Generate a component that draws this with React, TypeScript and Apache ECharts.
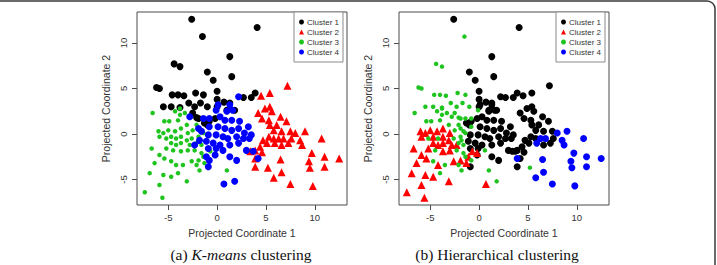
import React, { useEffect, useRef } from "react";
import * as echarts from "echarts";

const clusterNames = ["Cluster 1", "Cluster 2", "Cluster 3", "Cluster 4"];
const clusterColors = ["#000000", "#ff0000", "#1fc41f", "#0000ff"];
const clusterSymbols = ["circle", "triangle", "circle", "circle"];
const clusterSizes = [7, 8, 4.5, 7];

const axisTicks = [-5, 0, 5, 10];
const xTitle = "Projected Coordinate 1";
const yTitle = "Projected Coordinate 2";

// Each row: [projected coordinate 1, projected coordinate 2, hierarchical cluster]
// grouped by the K-means cluster the point was assigned to.
const kmeansCluster1 = [
  [-2.6, 12.6, 1], [4.1, 11.7, 1], [-1.5, 10.7, 3], [1.3, 8.5, 1], [-4.4, 7.7, 3],
  [-3.8, 7.4, 3], [-1.0, 6.8, 1], [1.5, 6.3, 1], [-0.4, 5.9, 1], [-6.2, 5.1, 3],
  [-5.9, 5.0, 3], [0.0, 4.7, 1], [-4.6, 4.3, 3], [-4.0, 4.3, 3], [-3.4, 4.2, 3],
  [-2.2, 4.5, 3], [-1.4, 4.3, 3], [3.9, 4.5, 1], [2.7, 4.0, 1], [3.5, 4.0, 1],
  [0.7, 3.5, 1], [0.0, 3.8, 1], [-5.5, 3.0, 3], [-4.7, 3.0, 3], [-3.8, 2.9, 3],
  [-2.9, 3.4, 3], [-2.3, 3.0, 3], [-1.7, 3.4, 3], [-1.0, 3.0, 3], [0.0, 3.0, 1],
  [1.8, 2.6, 1], [1.3, 3.4, 1], [-2.5, 2.3, 3], [-1.9, 1.7, 3], [-1.3, 1.2, 1],
  [-0.8, 1.4, 1], [-0.2, 1.7, 1], [1.0, 2.6, 1], [-2.1, 1.8, 3], [-1.0, 1.0, 1],
];

const kmeansCluster2 = [
  [7.2, 5.3, 1], [5.4, 4.5, 1], [4.5, 4.2, 1], [4.9, 2.8, 1], [5.4, 3.0, 1],
  [5.6, 2.5, 1], [4.2, 2.3, 1], [4.6, 1.7, 1], [5.3, 1.5, 1], [5.4, 1.0, 1],
  [6.5, 1.9, 1], [7.1, 1.4, 1], [6.1, 1.0, 1], [5.8, 0.4, 1], [6.6, 0.3, 1],
  [7.5, 0.3, 1], [8.0, 0.1, 4], [9.0, 0.3, 4], [7.6, -0.5, 1], [6.8, -0.5, 4],
  [6.3, -0.5, 4], [5.8, -0.5, 1], [5.3, -0.3, 1], [4.7, -0.7, 1], [4.4, -1.4, 1],
  [5.1, -1.0, 1], [5.9, -1.0, 4], [6.6, -1.2, 1], [7.3, -1.0, 1], [8.5, -0.7, 4],
  [8.7, -1.2, 4], [10.7, -0.5, 4], [3.4, -1.9, 1], [3.9, -1.8, 1], [4.6, -2.0, 1],
  [6.5, -2.8, 4], [5.2, -3.7, 3], [3.9, -3.6, 1], [6.6, -4.2, 4], [5.8, -4.8, 4],
  [7.5, -5.5, 4], [9.8, -5.7, 4], [9.4, -3.0, 4], [9.5, -3.7, 4], [9.7, -2.1, 4],
  [11.0, -2.5, 4], [11.0, -3.6, 4], [12.5, -2.7, 4], [3.9, -2.7, 4],
];

const kmeansCluster3 = [
  [-6.6, 2.3, 3], [-3.8, 2.1, 3], [-3.3, 2.3, 3], [-5.4, 1.4, 3], [-4.9, 1.4, 3],
  [-4.0, 1.5, 3], [-3.1, 1.0, 3], [-6.0, 0.3, 2], [-5.5, 0.1, 2], [-5.0, 0.4, 2],
  [-4.3, 0.3, 2], [-3.7, 0.6, 2], [-3.0, 0.1, 2], [-2.5, 0.4, 3], [-2.1, 1.0, 3],
  [-5.9, -0.3, 2], [-5.2, -0.5, 3], [-4.7, -0.3, 2], [-4.2, -0.5, 3], [-3.7, -0.3, 2],
  [-3.1, -0.7, 2], [-2.6, -0.5, 3], [-1.9, -0.3, 3], [-1.4, 0.1, 3], [-4.7, -1.0, 2],
  [-4.2, -1.2, 2], [-3.7, -1.0, 2], [-2.8, -1.2, 2], [-2.1, -1.0, 3], [-1.6, -1.2, 3],
  [-6.7, -1.6, 2], [-5.2, -1.6, 2], [-4.5, -1.8, 3], [-3.7, -1.9, 2], [-3.0, -1.8, 2],
  [-2.3, -1.8, 3], [-1.6, -2.1, 3], [-5.9, -2.3, 2], [-5.4, -2.7, 2], [-4.7, -3.0, 3],
  [-4.2, -3.4, 2], [-3.5, -3.4, 3], [-2.6, -3.0, 2], [-1.9, -2.9, 2], [-1.4, -2.5, 3],
  [-0.7, -1.9, 2], [-0.2, -2.1, 2], [-6.4, -3.2, 2], [-6.9, -4.3, 2], [-5.5, -4.5, 2],
  [-4.7, -4.7, 2], [-3.1, -5.2, 2], [-1.8, -4.0, 3], [1.0, -4.0, 3], [-5.9, -5.6, 2],
  [-4.0, -4.3, 3], [-2.1, -3.4, 3], [-1.3, -3.2, 2], [-7.4, -6.4, 2], [-5.6, -7.0, 2],
  [-4.3, 2.5, 3], [-3.8, 2.8, 3],
];

const kmeansCluster4 = [
  [2.2, 4.1, 1], [0.1, 3.2, 1], [1.3, 3.2, 1], [-0.1, 2.6, 3], [1.0, 2.5, 1],
  [1.6, 2.6, 1], [-2.8, 1.9, 3], [-1.4, 1.7, 3], [-0.8, 1.7, 3], [0.3, 1.9, 1],
  [0.8, 1.5, 1], [1.5, 1.5, 1], [2.3, 1.4, 1], [3.2, 0.8, 1], [-0.8, 0.8, 3],
  [0.1, 0.8, 1], [0.8, 0.6, 1], [1.5, 0.4, 1], [2.2, 0.6, 1], [2.8, 0.1, 1],
  [3.5, -0.1, 1], [-1.6, 0.3, 3], [-0.9, -0.1, 1], [-0.1, -0.1, 1], [0.6, -0.3, 1],
  [1.1, -0.5, 1], [2.0, -0.3, 1], [2.7, -0.5, 1], [3.3, -0.5, 1], [-1.8, -0.7, 3],
  [-1.1, -0.8, 1], [-0.4, -1.0, 1], [0.3, -1.2, 1], [1.3, -1.2, 1], [2.2, -1.0, 1],
  [-0.9, -1.6, 1], [-0.1, -1.6, 1], [0.6, -1.8, 3], [3.0, -1.8, 1], [3.7, -1.9, 1],
  [4.2, -2.7, 1], [-0.2, -2.3, 1], [-0.8, -2.9, 3], [1.3, -2.5, 1], [2.0, -2.9, 1],
  [-0.9, -3.6, 1], [1.8, -5.2, 3], [0.7, -5.5, 2], [-1.9, 0.6, 3], [-2.3, -1.2, 2],
  [-1.1, -2.5, 2],
];

const kmeansGroups = [kmeansCluster1, kmeansCluster2, kmeansCluster3, kmeansCluster4];

const sans = "'Liberation Sans', Arial, Helvetica, sans-serif";
const serif = "'Liberation Serif', 'Times New Roman', serif";

const panelLefts = [137, 399];
const panelTop = 12;
const panelWidth = 210;
const panelHeight = 193;

function buildOption() {
  const allRows = kmeansGroups.flat();

  const grids = panelLefts.map((left) => ({
    left,
    top: panelTop,
    width: panelWidth,
    height: panelHeight,
    show: true,
    borderColor: "#4a4a4a",
    borderWidth: 1,
    backgroundColor: "transparent",
  }));

  const xAxes = panelLefts.map((_, i) => ({
    gridIndex: i,
    type: "value",
    position: "bottom",
    min: -8.2,
    max: 13.3,
    axisLine: { show: false, onZero: false },
    splitLine: { show: false },
    axisTick: { show: true, customValues: axisTicks, length: 5, lineStyle: { color: "#4a4a4a" } },
    axisLabel: { customValues: axisTicks, margin: 7, fontSize: 9.5, color: "#333", fontFamily: sans },
    name: xTitle,
    nameLocation: "middle",
    nameGap: 22,
    nameTextStyle: { fontSize: 10.5, color: "#333", fontFamily: sans },
  }));

  const yAxes = panelLefts.map((_, i) => ({
    gridIndex: i,
    type: "value",
    position: "left",
    min: -7.8,
    max: 13.4,
    axisLine: { show: false, onZero: false },
    splitLine: { show: false },
    axisTick: { show: true, customValues: axisTicks, length: 5, lineStyle: { color: "#4a4a4a" } },
    axisLabel: { customValues: axisTicks, margin: 9, rotate: 90, fontSize: 9.5, color: "#333", fontFamily: sans },
    name: yTitle,
    nameLocation: "middle",
    nameGap: 26,
    nameTextStyle: { fontSize: 10.5, color: "#333", fontFamily: sans },
  }));

  const series: any[] = [];
  // K-means panel
  kmeansGroups.forEach((rows, k) => {
    series.push({
      type: "scatter",
      name: clusterNames[k],
      xAxisIndex: 0,
      yAxisIndex: 0,
      symbol: clusterSymbols[k],
      symbolSize: clusterSizes[k],
      itemStyle: { color: clusterColors[k], opacity: 1 },
      silent: true,
      data: rows.map((r) => [r[0], r[1]]),
    });
  });
  // Hierarchical panel
  clusterNames.forEach((name, k) => {
    series.push({
      type: "scatter",
      name,
      xAxisIndex: 1,
      yAxisIndex: 1,
      symbol: clusterSymbols[k],
      symbolSize: clusterSizes[k],
      itemStyle: { color: clusterColors[k], opacity: 1 },
      silent: true,
      data: allRows.filter((r) => r[2] === k + 1).map((r) => [r[0], r[1]]),
    });
  });

  const legends = panelLefts.map((left) => ({
    orient: "vertical",
    left: left + panelWidth - 53,
    top: panelTop,
    data: clusterNames,
    selectedMode: false,
    itemWidth: 5,
    itemHeight: 5,
    itemGap: 0,
    padding: [5, 4, 5, 5],
    borderColor: "#8a8a8a",
    borderWidth: 1,
    backgroundColor: "#fff",
    textStyle: { fontSize: 8, lineHeight: 10, color: "#333", fontFamily: sans, padding: [0, 0, 0, -2] },
  }));

  const captionStyle = { fontFamily: serif, fontSize: 15.5, fill: "#111" };
  const graphic = [
    {
      type: "rect",
      silent: true,
      shape: { x: -10, y: 1, width: 725, height: 300, r: 8 },
      style: { fill: "none", stroke: "#3a3a3a", lineWidth: 1.5 },
    },
    {
      type: "text",
      silent: true,
      x: 241,
      y: 254,
      style: {
        text: "{n|(a) }{i|K-means}{n| clustering}",
        align: "center",
        verticalAlign: "middle",
        rich: { n: { ...captionStyle }, i: { ...captionStyle, fontStyle: "italic" } },
      },
    },
    {
      type: "text",
      silent: true,
      x: 497,
      y: 254,
      style: {
        text: "{n|(b) Hierarchical clustering}",
        align: "center",
        verticalAlign: "middle",
        rich: { n: { ...captionStyle } },
      },
    },
  ];

  return {
    animation: false,
    backgroundColor: "#fff",
    grid: grids,
    xAxis: xAxes,
    yAxis: yAxes,
    legend: legends,
    series,
    graphic,
  };
}

export default function App() {
  const ref = useRef<HTMLDivElement>(null);
  useEffect(() => {
    if (!ref.current) return;
    const chart = echarts.init(ref.current, null, { renderer: "svg" });
    chart.setOption(buildOption() as any);
    return () => chart.dispose();
  }, []);
  return (
    <div
      ref={ref}
      style={{ position: "fixed", left: 0, top: 0, width: 717, height: 265, background: "#fff" }}
    />
  );
}
